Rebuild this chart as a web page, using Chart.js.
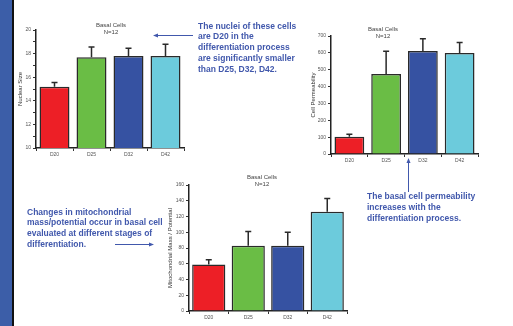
<!DOCTYPE html>
<html>
<head>
<meta charset="utf-8">
<script src="https://cdn.jsdelivr.net/npm/chart.js@4"></script>
<style>
  html, body { margin: 0; padding: 0; background: #fff; }
  #page { position: relative; width: 513px; height: 326px; overflow: hidden; font-family: "Liberation Sans", Arial, sans-serif; }
  .stripe { position: absolute; left: 0; top: 0; width: 12px; height: 326px; background: #3c5ea8; }
  .stripe-edge { position: absolute; left: 12px; top: 0; width: 2px; height: 326px; background: #111; }
  canvas { position: absolute; }
  .note { position: absolute; color: #4158ac; font-weight: bold; font-size: 8.5px; white-space: nowrap; }
  .ctitle { position: absolute; width: 80px; text-align: center; font-size: 6px; line-height: 7px; color: #444; }
  svg { position: absolute; left: 0; top: 0; }
</style>
</head>
<body>
<div id="page">
  <div class="stripe"></div>
  <div class="stripe-edge"></div>

  <canvas id="nuclearChart" width="180" height="140" style="left:10px;top:20px"></canvas>
  <canvas id="permChart" width="185" height="145" style="left:305px;top:20px"></canvas>
  <canvas id="mitoChart" width="195" height="150" style="left:160px;top:170px"></canvas>

  <div class="ctitle" style="left:71px;top:21.5px">Basal Cells<br>N=12</div>
  <div class="ctitle" style="left:343px;top:25.5px">Basal Cells<br>N=12</div>
  <div class="ctitle" style="left:222px;top:173.5px">Basal Cells<br>N=12</div>

  <div class="note" style="left:198px;top:20.5px;line-height:10.8px">The nuclei of these cells<br>are D20 in the<br>differentiation process<br>are significantly smaller<br>than D25, D32, D42.</div>
  <div class="note" style="left:27px;top:206.5px;line-height:10.7px">Changes in mitochondrial<br>mass/potential occur in basal cell<br>evaluated at different stages of<br>differentiation.</div>
  <div class="note" style="left:367px;top:190.5px;line-height:11px">The basal cell permeability<br>increases with the<br>differentiation process.</div>

  <svg width="513" height="326">
    <g stroke="#4158ac" stroke-width="1" fill="#4158ac">
      <line x1="193" y1="35.5" x2="157" y2="35.5"/>
      <polygon points="153,35.5 158,33.5 158,37.5" stroke="none"/>
      <line x1="115" y1="244.5" x2="150" y2="244.5"/>
      <polygon points="154,244.5 149,242.5 149,246.5" stroke="none"/>
      <line x1="408.5" y1="192" x2="408.5" y2="162"/>
      <polygon points="408.5,158 406.5,163 410.5,163" stroke="none"/>
    </g>
  </svg>
</div>

<script>
const categories = ['D20', 'D25', 'D32', 'D42'];
const barColors = ['#ed1f26', '#6abd45', '#3652a2', '#6ccbdc'];

const nuclearSize = [15.2, 17.7, 17.8, 17.8];
const nuclearErr = [0.35, 0.85, 0.65, 1.0];
const nuclearTicks = [10, 12, 14, 16, 18, 20];

const permeability = [103, 474, 611, 599];
const permeabilityErr = [14, 135, 73, 63];
const permeabilityTicks = [0, 100, 200, 300, 400, 500, 600, 700];

const mitoMass = [59, 83, 83, 126];
const mitoErr = [6, 18, 17, 17];
const mitoTicks = [0, 20, 40, 60, 80, 100, 120, 140, 160];

// draws the upper whisker of each bar
const errorBars = {
    id: 'errorBars',
    afterDatasetsDraw(chart, args, opts) {
        const ctx = chart.ctx;
        const meta = chart.getDatasetMeta(0);
        const yScale = chart.scales.y;
        const values = chart.data.datasets[0].data;
        ctx.save();
        ctx.strokeStyle = '#2a2a2a';
        ctx.lineWidth = 1.5;
        meta.data.forEach((bar, i) => {
            const top = yScale.getPixelForValue(values[i] + opts.errors[i]);
            ctx.beginPath();
            ctx.moveTo(bar.x, bar.y);
            ctx.lineTo(bar.x, top);
            ctx.moveTo(bar.x - 3, top);
            ctx.lineTo(bar.x + 3, top);
            ctx.stroke();
        });
        ctx.restore();
    }
};

function makeChart(id, values, errors, ticks, cfg) {
    const major = ticks[1] - ticks[0];
    return new Chart(document.getElementById(id).getContext('2d'), {
        type: 'bar',
        data: {
            labels: categories,
            datasets: [{
                data: values,
                backgroundColor: barColors,
                borderColor: '#2a2a2a',
                borderWidth: 1.5,
                categoryPercentage: 1,
                barPercentage: cfg.barPct
            }]
        },
        options: {
            responsive: false,
            animation: false,
            devicePixelRatio: 1,
            layout: { padding: { left: 0, top: cfg.padTop, right: cfg.padRight, bottom: 0 } },
            plugins: {
                legend: { display: false },
                tooltip: { enabled: false },
                errorBars: { errors: errors }
            },
            scales: {
                x: {
                    grid: { offset: true, drawOnChartArea: false, tickLength: 3, color: '#333', lineWidth: 1 },
                    border: { color: '#222', width: 1.5 },
                    ticks: { font: { size: 5, family: 'Liberation Sans' }, color: '#555', padding: 1 },
                    afterFit: s => { s.height = cfg.xHeight; }
                },
                y: {
                    min: ticks[0],
                    max: ticks[ticks.length - 1],
                    grid: { drawOnChartArea: false, tickLength: 3, color: '#333', lineWidth: 1 },
                    border: { color: '#222', width: 1.5 },
                    ticks: {
                        stepSize: major / 2,
                        font: { size: 5, family: 'Liberation Sans' },
                        color: '#555',
                        padding: 2,
                        callback: v => ticks.includes(v) ? String(v) : ''
                    },
                    title: {
                        display: true,
                        text: cfg.yTitle,
                        font: { size: 6, family: 'Liberation Sans' },
                        color: '#333',
                        padding: { top: cfg.titlePad, bottom: 0 }
                    },
                    afterFit: s => { s.width = cfg.yWidth; }
                }
            }
        },
        plugins: [errorBars]
    });
}

makeChart('nuclearChart', nuclearSize, nuclearErr, nuclearTicks, {
    yTitle: 'Nuclear Size', padTop: 10, padRight: 6, xHeight: 12, yWidth: 26, titlePad: 7, barPct: 0.81
});
makeChart('permChart', permeability, permeabilityErr, permeabilityTicks, {
    yTitle: 'Cell Permeability', padTop: 16, padRight: 12, xHeight: 11, yWidth: 26, titlePad: 4.7, barPct: 0.81
});
makeChart('mitoChart', mitoMass, mitoErr, mitoTicks, {
    yTitle: 'Mitochondrial Mass / Potential', padTop: 15, padRight: 8, xHeight: 9, yWidth: 29, titlePad: 6.4, barPct: 0.84
});
</script>
</body>
</html>
